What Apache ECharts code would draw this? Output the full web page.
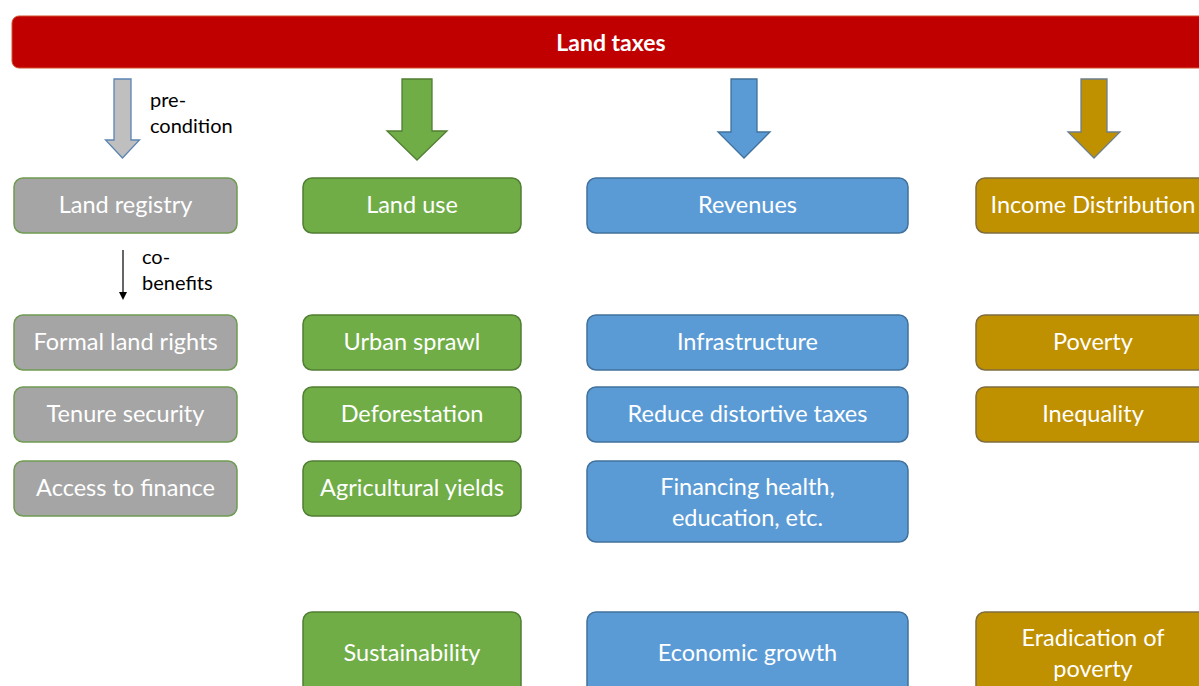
<!DOCTYPE html>
<html><head><meta charset="utf-8">
<script src="https://cdn.jsdelivr.net/npm/echarts@6/dist/echarts.min.js"></script>
<style>html,body{margin:0;padding:0;background:#fff}#c{width:1199px;height:686px}#c text{font-variant-ligatures:none;font-feature-settings:"liga" 0,"clig" 0}</style>
</head><body><div id="c"></div><script>
// ---- content ----
const headerTitle = 'Land taxes';
const columnTitles = ['Land registry', 'Land use', 'Revenues', 'Income Distribution'];
const landRegistryItems = ['Formal land rights', 'Tenure security', 'Access to finance'];
const landUseItems = ['Urban sprawl', 'Deforestation', 'Agricultural yields', 'Sustainability'];
const revenueItems = ['Infrastructure', 'Reduce distortive taxes', 'Financing health,\neducation, etc.', 'Economic growth'];
const incomeItems = ['Poverty', 'Inequality', 'Eradication of\npoverty'];
const landRegistryRows = [1, 2, 3];
const landUseRows = [1, 2, 3, 4];
const revenueRows = [1, 2, 3, 4];
const incomeRows = [1, 2, 4];
const noteTexts = ['pre-\ncondition', 'co-\nbenefits'];

// ---- layout & style (axis units = pixels of the 1199x686 canvas) ----
const layout = {
  colLeft: [14, 303, 587, 976], colRight: [237, 521, 908, 1210],
  rowTop: [178, 315, 387, 461, 612], rowBottom: [233, 370, 442, 516, 698],
  lineExtra: 26,
  bar: { left: 12, right: 1210, top: 16, bottom: 68 },
  arrowTop: 79, arrowHeadTop: [140, 131, 132, 132], arrowTip: [158, 160, 158, 158],
  arrowCx: [122.5, 417, 744, 1094], shaftHalf: [8.5, 15, 13, 13], headHalf: [17, 30, 26, 26],
  noteX: [150, 142], noteY: [86, 243],
  smallArrowX: 123, smallArrowTop: 250, smallArrowBottom: 300
};
const fills = ['#a5a5a5', '#70ad47', '#5b9bd5', '#bf9000'];
const strokes = ['#6f9a52', '#507e32', '#41719c', '#7f6d40'];
const arrowFills = ['#bfbfbf', '#70ad47', '#5b9bd5', '#bf9000'];
const arrowStrokes = ['#5b84b1', '#507e32', '#41719c', '#6d7f8c'];
const FONT = '"Lato", "Open Sans", sans-serif';

// ---- build box data ----
const boxes = [];
columnTitles.forEach((t, i) => boxes.push({ col: i, row: 0, label: t }));
const lists = [[landRegistryItems, landRegistryRows], [landUseItems, landUseRows], [revenueItems, revenueRows], [incomeItems, incomeRows]];
lists.forEach(([items, rows], c) => items.forEach((t, k) => boxes.push({ col: c, row: rows[k], label: t })));
const boxData = boxes.map(b => ({ value: [b.col, b.row, b.label.split('\n').length], name: b.label }));

function renderBox(params, api) {
  const b = boxes[params.dataIndex];
  const lines = api.value(2);
  const extra = (b.row > 0 && b.row < 4 && lines > 1) ? layout.lineExtra * (lines - 1) : 0;
  const p0 = api.coord([layout.colLeft[b.col], layout.rowTop[b.row]]);
  const p1 = api.coord([layout.colRight[b.col], layout.rowBottom[b.row] + extra]);
  const w = p1[0] - p0[0], h = p1[1] - p0[1];
  let cy = p0[1] + h / 2 - 2 + (lines > 1 ? 2 : 0);
  if (b.row === 4) cy = p0[1] + 40;
  return {
    type: 'group',
    children: [
      { type: 'rect', shape: { x: p0[0], y: p0[1], width: w, height: h, r: 9 },
        style: { fill: fills[b.col], stroke: strokes[b.col], lineWidth: 1.5 } },
      { type: 'text', style: { text: b.label, x: p0[0] + w / 2, y: cy, textAlign: 'center', textVerticalAlign: 'middle',
        font: '23.5px ' + FONT, fill: '#ffffff', lineHeight: 31 } }
    ]
  };
}

function renderBar(params, api) {
  const p0 = api.coord([layout.bar.left, layout.bar.top]);
  const p1 = api.coord([layout.bar.right, layout.bar.bottom]);
  return {
    type: 'group',
    children: [
      { type: 'rect', shape: { x: p0[0], y: p0[1], width: p1[0] - p0[0], height: p1[1] - p0[1], r: 7 },
        style: { fill: '#c00000', stroke: '#d0502a', lineWidth: 1 } },
      { type: 'text', style: { text: headerTitle, x: (p0[0] + p1[0]) / 2, y: (p0[1] + p1[1]) / 2, textAlign: 'center', textVerticalAlign: 'middle',
        font: 'bold 23px ' + FONT, fill: '#ffffff' } }
    ]
  };
}

function renderArrow(params, api) {
  const i = api.value(0);
  const cx = layout.arrowCx[i], s = layout.shaftHalf[i], hh = layout.headHalf[i];
  const pts = [
    [cx - s, layout.arrowTop], [cx + s, layout.arrowTop], [cx + s, layout.arrowHeadTop[i]],
    [cx + hh, layout.arrowHeadTop[i]], [cx, layout.arrowTip[i]], [cx - hh, layout.arrowHeadTop[i]],
    [cx - s, layout.arrowHeadTop[i]]
  ].map(p => api.coord(p));
  return { type: 'polygon', shape: { points: pts }, style: { fill: arrowFills[i], stroke: arrowStrokes[i], lineWidth: 1.3 } };
}

function renderNotes(params, api) {
  const a = api.coord([layout.smallArrowX, layout.smallArrowTop]);
  const b = api.coord([layout.smallArrowX, layout.smallArrowBottom]);
  const children = noteTexts.map((t, k) => {
    const p = api.coord([layout.noteX[k], layout.noteY[k]]);
    return { type: 'text', style: { text: t, x: p[0], y: p[1], textAlign: 'left', textVerticalAlign: 'top',
      font: '20px ' + FONT, fill: '#000000', lineHeight: 26 } };
  });
  children.push({ type: 'line', shape: { x1: a[0], y1: a[1], x2: b[0], y2: b[1] - 7 }, style: { stroke: '#000', lineWidth: 1.2 } });
  children.push({ type: 'polygon', shape: { points: [[b[0] - 4, b[1] - 8], [b[0] + 4, b[1] - 8], [b[0], b[1]]] }, style: { fill: '#000' } });
  return { type: 'group', children };
}

const chart = echarts.init(document.getElementById('c'), null, { renderer: 'svg' });
chart.setOption({
  animation: false,
  backgroundColor: '#ffffff',
  grid: { left: 0, right: 0, top: 0, bottom: 0 },
  xAxis: { type: 'value', min: 0, max: 1199, show: false },
  yAxis: { type: 'value', min: 0, max: 686, inverse: true, show: false },
  series: [
    { type: 'custom', renderItem: renderBar, data: [[0]], clip: false },
    { type: 'custom', renderItem: renderArrow, data: [[0], [1], [2], [3]], clip: false },
    { type: 'custom', renderItem: renderNotes, data: [[0]], clip: false },
    { type: 'custom', renderItem: renderBox, data: boxData, clip: false }
  ]
});
</script></body></html>
